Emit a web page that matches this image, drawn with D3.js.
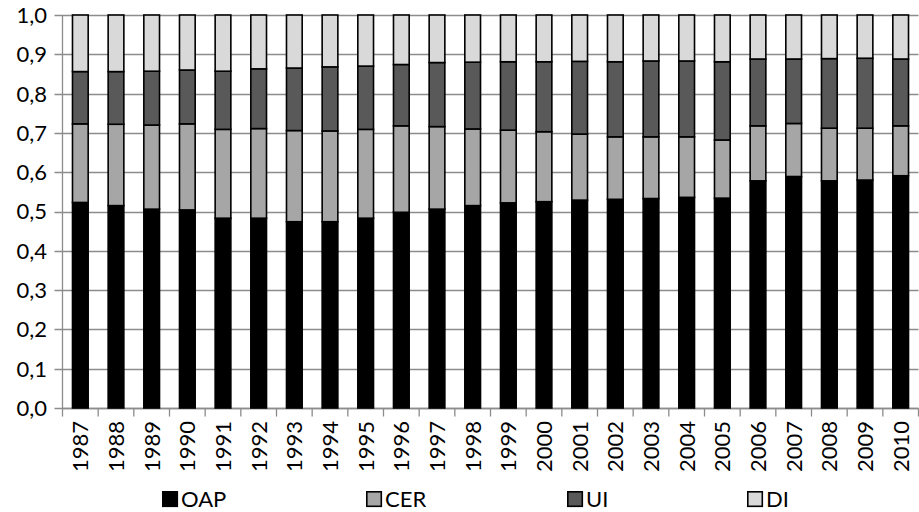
<!DOCTYPE html>
<html>
<head>
<meta charset="utf-8">
<script src="https://cdn.jsdelivr.net/npm/d3@7"></script>
<style>
  html, body { margin: 0; padding: 0; background: #fff; }
  svg { display: block; font-family: Lato, "Open Sans", sans-serif; }
</style>
</head>
<body>
<svg id="chart" width="919" height="512"></svg>
<script>
// Years on the category axis
const years = ["1987","1988","1989","1990","1991","1992","1993","1994","1995","1996","1997","1998",
               "1999","2000","2001","2002","2003","2004","2005","2006","2007","2008","2009","2010"];

// Shares of each benefit type per year (stacked to 1.0)
const OAP = [0.523,0.515,0.506,0.504,0.483,0.483,0.474,0.474,0.483,0.498,0.506,0.515,
             0.522,0.525,0.529,0.531,0.533,0.536,0.534,0.578,0.589,0.578,0.580,0.591];
const CER = [0.200,0.207,0.214,0.219,0.226,0.228,0.232,0.231,0.226,0.220,0.210,0.195,
             0.185,0.178,0.168,0.159,0.157,0.154,0.148,0.140,0.135,0.134,0.132,0.127];
const UI  = [0.133,0.134,0.137,0.137,0.148,0.152,0.159,0.163,0.161,0.156,0.163,0.170,
             0.174,0.178,0.185,0.191,0.193,0.193,0.199,0.170,0.164,0.177,0.178,0.170];
const DI  = [0.144,0.144,0.143,0.140,0.143,0.137,0.135,0.132,0.130,0.126,0.121,0.120,
             0.119,0.119,0.118,0.119,0.117,0.117,0.119,0.112,0.112,0.111,0.110,0.112];

const seriesNames = ["OAP","CER","UI","DI"];
const yTicks = [0,0.1,0.2,0.3,0.4,0.5,0.6,0.7,0.8,0.9,1.0];

const colors = { OAP: "#000000", CER: "#a6a6a6", UI: "#595959", DI: "#d9d9d9" };

const table = years.map((y, i) => ({ year: y, OAP: OAP[i], CER: CER[i], UI: UI[i], DI: DI[i] }));

const svg = d3.select("#chart");
const plot = { left: 62.5, right: 918.5, top: 15, bottom: 408 };

const x = d3.scaleBand()
  .domain(years)
  .range([plot.left, plot.right])
  .paddingInner(0.56)
  .paddingOuter(0.28);

const y = d3.scaleLinear()
  .domain([0, 1])
  .range([plot.bottom, plot.top]);

const fmt = d => d3.format(".1f")(d).replace(".", ",");

// horizontal gridlines
svg.append("g")
  .selectAll("line")
  .data(yTicks)
  .join("line")
  .attr("x1", plot.left - 8)
  .attr("x2", plot.right)
  .attr("y1", d => Math.round(y(d)) + 0.5)
  .attr("y2", d => Math.round(y(d)) + 0.5)
  .attr("stroke", "#8c8c8c")
  .attr("stroke-width", 1.3);

// y axis labels
svg.append("g")
  .selectAll("text")
  .data(yTicks)
  .join("text")
  .attr("x", 47)
  .attr("y", d => y(d))
  .attr("dy", "0.36em")
  .attr("text-anchor", "end")
  .attr("font-size", 22)
  .attr("fill", "#000")
  .text(fmt);

// vertical axis line
svg.append("line")
  .attr("x1", plot.left).attr("x2", plot.left)
  .attr("y1", plot.top).attr("y2", plot.bottom)
  .attr("stroke", "#8c8c8c").attr("stroke-width", 1.3);

// category axis with tick marks between bars
const xAxis = d3.axisBottom(x).tickSize(0).tickFormat("");
const gx = svg.append("g").attr("transform", `translate(0,${Math.round(plot.bottom) + 0.5})`).call(xAxis);
gx.select(".domain").attr("stroke", "#8c8c8c").attr("stroke-width", 1.3)
  .attr("d", `M${plot.left},0H${plot.right}`);

const step = x.step();
const boundaries = d3.range(years.length + 1).map(i => plot.left + i * step);
gx.selectAll("line.sep")
  .data(boundaries)
  .join("line")
  .attr("class", "sep")
  .attr("x1", d => d).attr("x2", d => d)
  .attr("y1", 0).attr("y2", 8)
  .attr("stroke", "#8c8c8c").attr("stroke-width", 1.3);

// rotated year labels
svg.append("g")
  .selectAll("text")
  .data(years)
  .join("text")
  .attr("transform", d => `translate(${x(d) + x.bandwidth() / 2},421) rotate(-90)`)
  .attr("dy", "0.36em")
  .attr("text-anchor", "end")
  .attr("font-size", 22)
  .attr("fill", "#000")
  .text(d => d);

// stacked bars
const stack = d3.stack().keys(seriesNames);
const layers = stack(table);

svg.append("g")
  .selectAll("g")
  .data(layers)
  .join("g")
  .attr("fill", d => colors[d.key])
  .selectAll("rect")
  .data(d => d)
  .join("rect")
  .attr("x", d => x(d.data.year))
  .attr("width", x.bandwidth())
  .attr("y", d => y(d[1]))
  .attr("height", d => y(d[0]) - y(d[1]))
  .attr("stroke", "#000")
  .attr("stroke-width", 1.6);

// legend
const legendX = [162, 366, 567, 747];
const lg = svg.append("g")
  .selectAll("g")
  .data(seriesNames)
  .join("g")
  .attr("transform", (d, i) => `translate(${legendX[i]},491)`);

lg.append("rect")
  .attr("x", 0.8).attr("y", 0.8)
  .attr("width", 14.5).attr("height", 14.5)
  .attr("fill", d => colors[d])
  .attr("stroke", "#000")
  .attr("stroke-width", 1.6);

lg.append("text")
  .attr("x", 19)
  .attr("y", 8)
  .attr("dy", "0.36em")
  .attr("font-size", 22)
  .attr("fill", "#000")
  .text(d => d);
</script>
</body>
</html>
